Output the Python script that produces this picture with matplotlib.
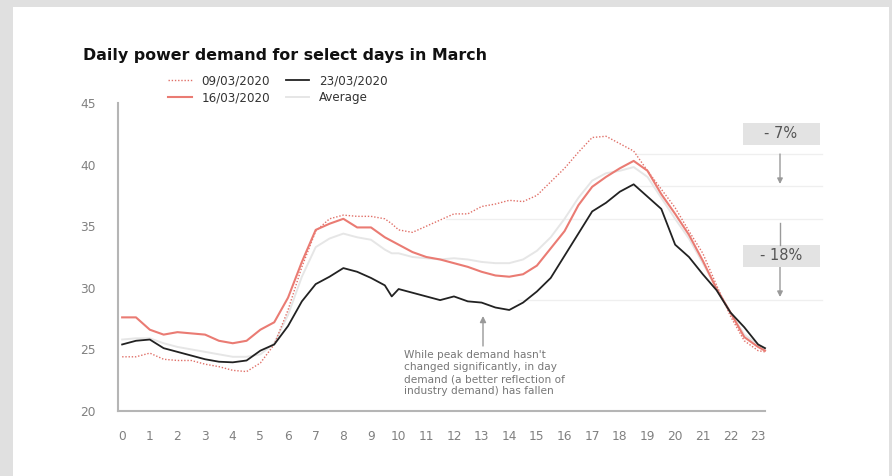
import numpy as np
import matplotlib
matplotlib.use("Agg")
import matplotlib.pyplot as plt
from matplotlib.patches import Rectangle

# ---------------- data ----------------
hours = [0, 0.5, 1, 1.5, 2, 2.5, 3, 3.5, 4, 4.5, 5, 5.5, 6, 6.5, 7, 7.5, 8, 8.5, 9, 9.5,
         9.75, 10, 10.5, 11, 11.5, 12, 12.5, 13, 13.5, 14, 14.5, 15, 15.5, 16, 16.5, 17, 17.5,
         18, 18.5, 19, 19.5, 20, 20.5, 21, 21.5, 22, 22.5, 23, 23.25]

d_0903 = [24.4, 24.4, 24.7, 24.2, 24.1, 24.1, 23.8, 23.6, 23.3, 23.2, 23.9, 25.4, 28.2, 31.7,
          34.6, 35.6, 35.9, 35.8, 35.8, 35.6, 35.2, 34.7, 34.5, 35.0, 35.5, 36.0, 36.0, 36.6,
          36.8, 37.1, 37.0, 37.5, 38.6, 39.7, 41.0, 42.2, 42.3, 41.7, 41.1, 39.5, 38.0, 36.5,
          34.6, 32.8, 30.2, 27.7, 25.7, 24.9, 24.8]

d_1603 = [27.6, 27.6, 26.6, 26.2, 26.4, 26.3, 26.2, 25.7, 25.5, 25.7, 26.6, 27.2, 29.2, 32.1,
          34.7, 35.2, 35.6, 34.9, 34.9, 34.1, 33.8, 33.5, 32.9, 32.5, 32.3, 32.0, 31.7, 31.3,
          31.0, 30.9, 31.1, 31.8, 33.2, 34.6, 36.7, 38.2, 39.0, 39.7, 40.3, 39.5, 37.6, 36.0,
          34.3, 32.2, 29.9, 28.0, 26.0, 25.2, 24.9]

d_2303 = [25.4, 25.7, 25.8, 25.1, 24.8, 24.5, 24.2, 24.0, 23.95, 24.1, 24.9, 25.4, 26.9, 28.9,
          30.3, 30.9, 31.6, 31.3, 30.8, 30.2, 29.3, 29.9, 29.6, 29.3, 29.0, 29.3, 28.9, 28.8,
          28.4, 28.2, 28.8, 29.7, 30.8, 32.6, 34.4, 36.2, 36.9, 37.8, 38.4, 37.4, 36.4, 33.5,
          32.5, 31.1, 29.8, 28.0, 26.8, 25.4, 25.1]

d_avg = [25.8, 25.9, 25.9, 25.5, 25.2, 25.0, 24.8, 24.6, 24.4, 24.4, 24.6, 25.5, 27.8, 30.9,
         33.3, 34.0, 34.4, 34.1, 33.9, 33.1, 32.8, 32.8, 32.5, 32.4, 32.3, 32.4, 32.3, 32.1,
         32.0, 32.0, 32.3, 33.0, 34.1, 35.6, 37.3, 38.7, 39.3, 39.5, 39.8, 39.0, 37.3, 35.6,
         34.0, 32.0, 30.0, 28.0, 26.2, 25.4, 25.1]

xticks = list(range(24))
yticks = [20, 25, 30, 35, 40, 45]
labels = ["09/03/2020", "16/03/2020", "23/03/2020", "Average"]
title = "Daily power demand for select days in March"
note = ("While peak demand hasn't\nchanged significantly, in day\n"
        "demand (a better reflection of\nindustry demand) has fallen")
guide_levels = [40.9, 38.3, 35.6, 29.0]
guide_starts = [18.6, 18.45, 11.7, 14.3]
pct_labels = ["- 7%", "- 18%"]

# ---------------- figure ----------------
W, H = 892, 476
fig = plt.figure(figsize=(W / 100, H / 100), dpi=100)
fig.patch.set_facecolor("#e0e0e0")


def fp(x, y):
    return (x / W, 1 - y / H)


fig.patches.append(Rectangle(fp(13, 476), (889 - 13) / W, (476 - 7) / H,
                             transform=fig.transFigure, facecolor="white",
                             edgecolor="none", zorder=-10))

ax = fig.add_axes([118 / W, 1 - 411 / H, (765 - 118) / W, (411 - 103) / H])
ax.set_facecolor("none")

# guide lines
for lvl, st in zip(guide_levels, guide_starts):
    ax.plot([st, 25.3], [lvl, lvl], color="#efefef", lw=0.9, clip_on=False, zorder=1)

l_avg, = ax.plot(hours, d_avg, color="#e6e6e6", lw=1.4, zorder=2, clip_on=False)
l_0903, = ax.plot(hours, d_0903, color="#e07068", lw=1.0, ls=(0, (1, 1.3)), zorder=3,
                  clip_on=False)
l_1603, = ax.plot(hours, d_1603, color="#ea7b73", lw=1.5, zorder=4, clip_on=False)
l_2303, = ax.plot(hours, d_2303, color="#222222", lw=1.3, zorder=5, clip_on=False)

ax.set_xlim(-0.15, 23.25)
ax.set_ylim(20, 45)
ax.set_xticks(xticks)
ax.set_yticks(yticks)
for s in ["top", "right"]:
    ax.spines[s].set_visible(False)
for s in ["left", "bottom"]:
    ax.spines[s].set_color("#b5b5b5")
    ax.spines[s].set_linewidth(1.5)
ax.tick_params(axis="both", length=0, labelcolor="#808080", labelsize=8.8)
ax.tick_params(axis="y", pad=16)
ax.tick_params(axis="x", pad=14)

fig.text(*fp(83, 60), title, fontsize=11.4, fontweight="bold", color="#111111",
         va="baseline", ha="left")

leg = fig.legend([l_0903, l_1603, l_2303, l_avg], labels, ncol=2,
                 loc="upper left", bbox_to_anchor=fp(168, 74),
                 bbox_transform=fig.transFigure, frameon=False, fontsize=8.6,
                 handlelength=2.0, handletextpad=0.8, columnspacing=1.3,
                 labelspacing=0.35, borderpad=0, borderaxespad=0)
for t in leg.get_texts():
    t.set_color("#333333")

# annotation arrow + note
ax.annotate("", xy=fp(483, 316), xytext=fp(483, 346), xycoords="figure fraction",
            textcoords="figure fraction",
            arrowprops=dict(arrowstyle="-|>", color="#999999", lw=1.0,
                            mutation_scale=9, shrinkA=0, shrinkB=0))
fig.text(*fp(404, 350), note, fontsize=7.6, color="#777777", va="top", ha="left",
         linespacing=1.25)

# percentage boxes and arrows
arrow_kw = dict(arrowstyle="-|>", color="#9a9a9a", lw=1.0, mutation_scale=8,
                shrinkA=0, shrinkB=0)
ax.annotate("", xy=fp(780, 184), xytext=fp(780, 154), xycoords="figure fraction",
            textcoords="figure fraction", arrowprops=arrow_kw)
ax.annotate("", xy=fp(780, 297), xytext=fp(780, 267), xycoords="figure fraction",
            textcoords="figure fraction", arrowprops=arrow_kw)
fig.add_artist(plt.Line2D([780 / W, 780 / W], [1 - 223 / H, 1 - 245 / H],
                          color="#9a9a9a", lw=1.0, transform=fig.transFigure))
for (y0, y1), lab in zip([(123, 145), (245, 267)], pct_labels):
    fig.patches.append(Rectangle(fp(743, y1), (820 - 743) / W, (y1 - y0) / H,
                                 transform=fig.transFigure, facecolor="#e3e3e3",
                                 edgecolor="none", zorder=1))
    fig.text(*fp(781, (y0 + y1) / 2), lab, fontsize=10.5, color="#555555",
             ha="center", va="center")

fig.savefig("out.png", dpi=100, facecolor=fig.get_facecolor())
